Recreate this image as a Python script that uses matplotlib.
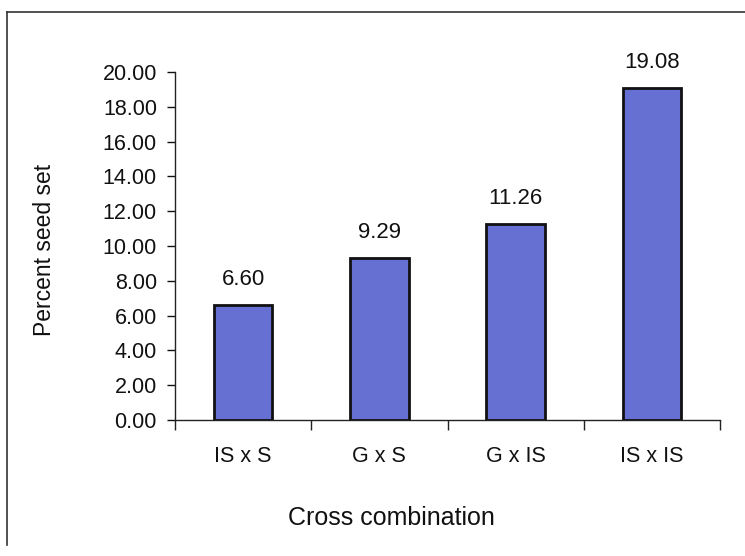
import matplotlib
matplotlib.use("Agg")
import matplotlib.pyplot as plt
from matplotlib.lines import Line2D
import numpy as np

categories = ["IS x S", "G x S", "G x IS", "IS x IS"]
seed_set = [6.60, 9.29, 11.26, 19.08]
y_ticks = [0, 2, 4, 6, 8, 10, 12, 14, 16, 18, 20]

plt.rcParams["font.family"] = ["Liberation Sans", "DejaVu Sans"]

W, H = 745, 556
fig = plt.figure(figsize=(W / 100, H / 100), dpi=100)
ax_left, ax_right, ax_bottom, ax_top = 175, 720, 420, 72
ax = fig.add_axes([ax_left / W, 1 - ax_bottom / H, (ax_right - ax_left) / W,
                   (ax_bottom - ax_top) / H])

x = np.arange(len(categories))
ax.bar(x, seed_set, width=0.43, color="#6670d2", edgecolor="#111111", linewidth=2.0, zorder=3)

for xi, v in zip(x, seed_set):
    ax.annotate(f"{v:.2f}", (xi, v), xytext=(0, 11), textcoords="offset points",
                ha="center", va="bottom", fontsize=16, color="#111111")

ax.set_xlim(-0.5, len(categories) - 0.5)
ax.set_ylim(0, 20)
ax.set_yticks(y_ticks)
ax.set_yticklabels([f"{t:.2f}" for t in y_ticks])
ax.set_xticks(x)
ax.set_xticklabels(categories)
ax.set_xticks(np.arange(len(categories) + 1) - 0.5, minor=True)

ax.tick_params(axis="x", which="major", length=0, pad=19, labelsize=15.5, colors="#111111")
ax.tick_params(axis="x", which="minor", length=7, width=1, direction="out", color="#222222")
ax.tick_params(axis="y", length=6, width=1, direction="out", pad=7, labelsize=15.5,
               colors="#111111")

for side in ("top", "right"):
    ax.spines[side].set_visible(False)
for side in ("left", "bottom"):
    ax.spines[side].set_color("#222222")
    ax.spines[side].set_linewidth(1.0)

aw, ah = ax_right - ax_left, ax_bottom - ax_top
ax.set_ylabel("Percent seed set", fontsize=16.5, color="#111111")
ax.yaxis.set_label_coords((56 - ax_left) / aw, 0.49)
ax.set_xlabel("Cross combination", fontsize=18, color="#111111")
ax.xaxis.set_label_coords((391 - ax_left) / aw, (ax_bottom - 506) / ah)

# Outer frame around the chart area
fig.add_artist(Line2D([7 / W, 7 / W], [1 - 545 / H, 1 - 12 / H], transform=fig.transFigure,
                      color="#333333", linewidth=1.2))
fig.add_artist(Line2D([7 / W, 1.0], [1 - 12 / H, 1 - 12 / H], transform=fig.transFigure,
                      color="#333333", linewidth=1.2))

fig.savefig("out.png", dpi=100)
